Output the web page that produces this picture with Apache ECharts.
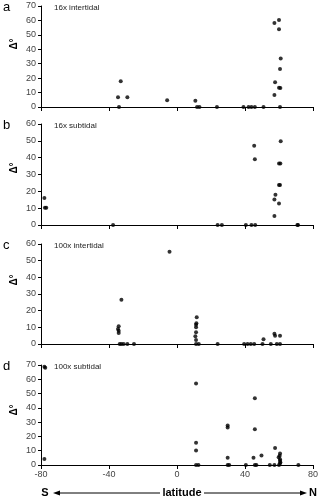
<!DOCTYPE html>
<html><head><meta charset="utf-8">
<script src="https://cdn.jsdelivr.net/npm/echarts@6/dist/echarts.min.js"></script>
<style>html,body{margin:0;padding:0;background:#fff}#c{width:322px;height:500px}</style>
</head><body><div id="c"></div>
<script>
const xTicks = [-80, -40, 0, 40, 80];
const panelLetters = ['a', 'b', 'c', 'd'];
const panelTitles = ['16x intertidal', '16x subtidal', '100x intertidal', '100x subtidal'];
const yMax = [70, 60, 60, 70];
const yName = 'Δ°';
const xName = 'latitude';

const aLat = [-34.7,-34.1,-33.1,-29.2,-5.8,10.8,11.8,13.2,23.5,39.1,42.1,43.8,45.8,50.9,57.3,57.7,57.3,60.0,60.0,61.0,60.6,60.0,60.8,60.6];
const aVal = [6.7,0,17.8,6.7,4.6,4.4,0,0,0,0,0,0,0,0,8.3,17.1,58.2,60.3,53.8,33.7,26.3,13.4,13.2,0];

const bLat = [-78.0,-77.7,-76.9,-37.6,23.9,26.4,40.5,43.8,46.0,45.4,45.8,57.3,57.3,57.9,60.0,60.6,60.0,60.0,60.8,61.0,70.8,71.2];
const bVal = [16.1,10.3,10.3,0,0,0,0,0,0,47.1,39.1,5.4,15.1,17.9,12.7,23.8,23.8,36.6,36.6,49.7,0,0];

const cLat = [-32.7,-34.3,-34.7,-34.3,-34.3,-33.7,-32.7,-31.4,-29.2,-25.3,-4.4,11.6,11.2,11.4,11.2,11.2,10.8,11.2,11.2,12.8,23.9,39.5,41.5,43.4,45.4,50.9,50.3,55.2,57.3,57.7,60.6,58.7,60.6];
const cVal = [26.5,10.6,9.0,8.0,6.6,0,0,0,0,0,55.4,16.1,11.6,12.5,10.0,7.0,4.6,2.4,0,0,0,0,0,0,0,2.8,0,0,6.2,5.0,5.0,0,0];

const dLat = [-78.0,-77.5,-78.0,11.2,11.2,11.2,11.2,12.6,29.8,29.8,29.8,29.8,30.7,40.5,45.0,45.8,45.8,45.8,46.7,49.7,54.6,57.3,57.7,60.0,60.6,60.4,59.8,60.6,60.6,60.8,60.6,71.4];
const dVal = [68.8,68.0,4.2,57.0,15.6,10.2,0,0,27.7,26.3,5.1,0,0,0,5.1,46.8,25.1,0,0,6.7,0,0,11.9,0,8.0,6.5,5.4,4.0,3.0,2.0,1.0,0];

const lats = [aLat, bLat, cLat, dLat];
const vals = [aVal, bVal, cVal, dVal];

const FONT = "'Liberation Sans', Arial, sans-serif";
const gridTops = [6, 124, 244, 365];
const gridH = [101, 101, 100, 100];
const nameY = [44, 168, 280, 410];

const chart = echarts.init(document.getElementById('c'), null, {renderer: 'canvas'});
const grids = [], xAxes = [], yAxes = [], series = [], graphic = [];
for (let i = 0; i < 4; i++) {
  grids.push({left: 41, right: 9, top: gridTops[i], height: gridH[i]});
  xAxes.push({
    type: 'value', gridIndex: i, min: xTicks[0], max: xTicks[xTicks.length - 1], interval: 40,
    axisLine: {show: true, onZero: false, lineStyle: {color: '#000', width: 1}},
    axisTick: {show: true, length: 4, lineStyle: {color: '#000'}},
    axisLabel: {show: i === 3, color: '#444', fontSize: 9, fontFamily: FONT, margin: 5},
    splitLine: {show: false}
  });
  yAxes.push({
    type: 'value', gridIndex: i, min: 0, max: yMax[i], interval: 10,
    axisLine: {show: true, onZero: false, lineStyle: {color: '#000', width: 1}},
    axisTick: {show: true, length: 3, lineStyle: {color: '#000'}},
    axisLabel: {color: '#444', fontSize: 9, fontFamily: FONT, margin: 5},
    splitLine: {show: false}
  });
  series.push({
    type: 'scatter', xAxisIndex: i, yAxisIndex: i,
    data: lats[i].map((x, k) => [x, vals[i][k]]),
    symbol: 'circle', symbolSize: 4,
    itemStyle: {color: '#000'}
  });
  graphic.push({type: 'text', left: 3, top: gridTops[i] - 5,
    style: {text: panelLetters[i], font: '13px ' + FONT, fill: '#000'}});
  graphic.push({type: 'text', left: 54, top: gridTops[i] - 2,
    style: {text: panelTitles[i], font: '8px ' + FONT, fill: '#222'}});
  graphic.push({type: 'text', x: 14, y: nameY[i], rotation: Math.PI / 2,
    style: {text: yName, font: 'bold 10px ' + FONT, fill: '#000', align: 'center', verticalAlign: 'middle'}});
}
// bottom latitude label with arrows
const by = 493;
graphic.push({type: 'text', x: 45, y: by, style: {text: 'S', font: 'bold 11px ' + FONT, fill: '#000', align: 'center', verticalAlign: 'middle'}});
graphic.push({type: 'text', x: 313, y: by, style: {text: 'N', font: 'bold 11px ' + FONT, fill: '#000', align: 'center', verticalAlign: 'middle'}});
graphic.push({type: 'text', x: 182, y: by, style: {text: xName, font: 'bold 11px ' + FONT, fill: '#000', align: 'center', verticalAlign: 'middle'}});
graphic.push({type: 'line', shape: {x1: 58, y1: by, x2: 160, y2: by}, style: {stroke: '#000', lineWidth: 1}});
graphic.push({type: 'line', shape: {x1: 204, y1: by, x2: 303, y2: by}, style: {stroke: '#000', lineWidth: 1}});
graphic.push({type: 'polygon', shape: {points: [[53, by], [60, by - 2.5], [60, by + 2.5]]}, style: {fill: '#000'}});
graphic.push({type: 'polygon', shape: {points: [[307, by], [300, by - 2.5], [300, by + 2.5]]}, style: {fill: '#000'}});

chart.setOption({
  animation: false,
  backgroundColor: '#fff',
  grid: grids, xAxis: xAxes, yAxis: yAxes, series: series, graphic: graphic
});
</script></body></html>
